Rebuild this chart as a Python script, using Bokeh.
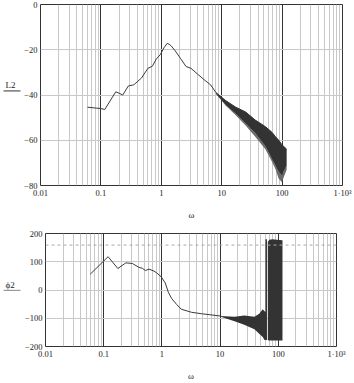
from bokeh.plotting import figure
from bokeh.layouts import column, row
from bokeh.models import FixedTicker, Span
from bokeh.core.properties import value
from bokeh.embed import file_html
from bokeh.resources import INLINE

# ---- data: magnitude L2 (dB) vs omega ----
w_L2 = [0.06, 0.1, 0.116, 0.176, 0.2, 0.23, 0.285, 0.35, 0.47, 0.6, 0.71, 0.83, 0.96,
        1.11, 1.25, 1.35, 1.46, 1.7, 2.1, 2.57, 3.1, 4.0, 5.1, 6.6, 8.0]
L2 = [-45.4, -46.0, -46.4, -38.6, -39.2, -40.0, -36.0, -35.5, -32.5, -28.2, -27.3, -24.0, -22.2,
      -19.1, -17.2, -17.6, -18.3, -20.5, -24.0, -27.4, -28.2, -30.8, -33.2, -35.6, -38.9]
# noisy high-frequency envelope of L2 (dark core, light lower spikes)
w_L2_band = [8.0, 11.7, 17.1, 24.9, 36, 53, 68, 77, 88, 99, 119]
L2_hi = [-38.9, -42.5, -45.4, -47.5, -51.1, -54.0, -56.5, -58.3, -60.0, -61.9, -64.0]
L2_lo = [-39.5, -44.5, -48.3, -52.6, -56.9, -62.6, -68.3, -71.0, -74.0, -75.5, -71.2]
L2_spike = [-39.5, -44.8, -49.0, -53.5, -58.5, -64.0, -69.5, -72.5, -77.0, -78.5, -73.0]

# ---- data: phase phi2 (deg) vs omega ----
w_ph = [0.0586, 0.119, 0.175, 0.24, 0.31, 0.405, 0.46, 0.52, 0.6, 0.73, 0.82, 0.97,
        1.14, 1.29, 1.47, 1.79, 2.15, 3.24, 4.8, 10.0]
ph2 = [55.7, 118, 76, 96, 94, 80, 77, 69, 74, 67, 60, 47,
       25, -8, -30, -51, -68, -79, -84, -92]
w_ph_band = [10.0, 17.7, 26, 38.9, 47, 54, 58, 62]
ph_hi = [-92, -95, -90, -95, -84, -68, -75, -80]
ph_lo = [-94, -111, -123, -139, -155, -166, -177, -177]
w_ph_wrap = [66, 70, 80, 95, 118]
ph_wrap_hi = [170, 178, 180, 178, 176]
ph_wrap_lo = [-178, -179, -179, -179, -179]
w_ph_jump = [62, 62]
ph_jump = [-177, 180]
marker_level = 159

x_ticks = [0.01, 0.1, 1, 10, 100, 1000]
x_tick_labels = ["0.01", "0.1", "1", "10", "100", "1\u00b710\u00b3"]
x_minor = [m * d for d in [0.01, 0.1, 1, 10, 100] for m in range(2, 10)]
y1_ticks = [-80, -60, -40, -20, 0]
y2_ticks = [-200, -100, 0, 100, 200]

FONT = "Liberation Serif"
LINE = "#3c3c3c"
BAND = "#333333"
LAB_W = 21


def style(p, yticks):
    p.xaxis.ticker = FixedTicker(ticks=x_ticks, minor_ticks=x_minor)
    p.xaxis.major_label_overrides = {t: l for t, l in zip(x_ticks, x_tick_labels)}
    p.yaxis.ticker = FixedTicker(ticks=yticks)
    for ax in (p.xaxis[0], p.yaxis[0]):
        ax.major_tick_line_color = None
        ax.minor_tick_line_color = None
        ax.major_tick_out = 0
        ax.major_tick_in = 0
        ax.minor_tick_out = 0
        ax.minor_tick_in = 0
        ax.axis_line_color = None
        ax.major_label_text_font = FONT
        ax.major_label_text_font_size = "8.5px"
        ax.major_label_text_color = "#222222"
        ax.axis_label_text_font = FONT
        ax.axis_label_text_font_style = "normal"
        ax.axis_label_text_font_size = "9px"
        ax.axis_label_text_color = "#222222"
    p.xaxis.major_label_standoff = 2
    p.yaxis.major_label_standoff = 3
    p.xaxis.axis_label = "\u03c9"
    p.xaxis.axis_label_standoff = 9
    p.xgrid.grid_line_color = "#333333"
    p.xgrid.minor_grid_line_color = "#c8c8c8"
    p.ygrid.grid_line_color = "#c8c8c8"
    p.outline_line_color = "#333333"
    p.outline_line_width = 1
    p.background_fill_color = "white"
    p.border_fill_color = "white"


def label_fig(h, text, ty, uy, ucolor):
    f = figure(width=LAB_W, height=h, x_range=(0, LAB_W), y_range=(0, h),
               output_backend="svg", toolbar_location=None,
               x_axis_location=None, y_axis_location=None, min_border=0)
    f.grid.visible = False
    f.outline_line_color = None
    f.text(x=[5], y=[ty], text=[text], text_font=value(FONT), text_font_size="9px",
           text_color="#222222", text_baseline="middle", text_align="left")
    f.line([3, 20], [uy, uy], line_color=ucolor, line_width=1)
    return f


p1 = figure(width=354 - LAB_W, height=222, x_axis_type="log", x_range=(0.01, 1000), y_range=(-80, 0),
            output_backend="svg", toolbar_location=None,
            min_border_left=38 - LAB_W, min_border_right=12, min_border_top=4, min_border_bottom=32)
style(p1, y1_ticks)
p1.line(w_L2, L2, line_color=LINE, line_width=1)
p1.varea(x=w_L2_band, y1=L2_spike, y2=L2_lo, fill_color="#6a6a6a")
p1.varea(x=w_L2_band, y1=L2_lo, y2=L2_hi, fill_color=BAND)
p1.line(w_L2_band, L2_hi, line_color=BAND, line_width=1)
lab1 = label_fig(222, "L2", 123, 116, "#333333")

p2 = figure(width=354 - LAB_W, height=161, x_axis_type="log", x_range=(0.01, 1000), y_range=(-200, 200),
            output_backend="svg", toolbar_location=None,
            min_border_left=41 - LAB_W, min_border_right=18, min_border_top=11, min_border_bottom=27)
style(p2, y2_ticks)
p2.line(w_ph, ph2, line_color=LINE, line_width=1)
p2.varea(x=w_ph_band, y1=ph_lo, y2=ph_hi, fill_color=BAND)
p2.varea(x=w_ph_wrap, y1=ph_wrap_lo, y2=ph_wrap_hi, fill_color=BAND)
p2.line(w_ph_jump, ph_jump, line_color=BAND, line_width=1.5)
p2.add_layout(Span(location=marker_level, dimension="width", line_color="#aaaaaa",
                   line_dash="3 3", line_width=1))
lab2 = label_fig(161, "\u03d52", 88, 80, "#888888")

layout = column(row(lab1, p1, spacing=0), row(lab2, p2, spacing=0), spacing=0)
open("out.html", "w").write(file_html(layout, INLINE))
